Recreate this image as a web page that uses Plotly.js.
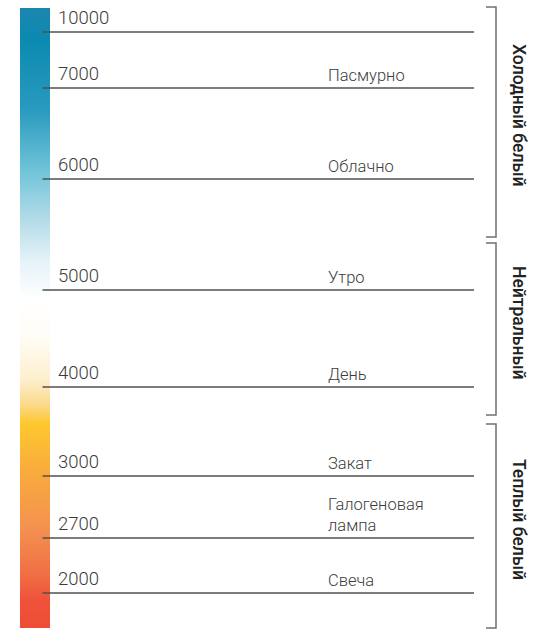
<!DOCTYPE html>
<html>
<head>
<meta charset="utf-8">
<script src="https://cdn.plot.ly/plotly-3.0.1.min.js"></script>
<style>html,body{margin:0;padding:0;background:#fff;}#chart{width:551px;height:630px;}</style>
</head>
<body>
<div id="chart"></div>
<script>
// Colour temperatures (K) and their descriptions
const temperatures = ['10000', '7000', '6000', '5000', '4000', '3000', '2700', '2000'];
const descriptions = ['', 'Пасмурно', 'Облачно', 'Утро', 'День', 'Закат', 'Галогеновая<br>лампа', 'Свеча'];
// vertical level of each row on the scale axis (0 = top, 630 = bottom)
const rowLevels = [32, 88, 179, 290, 387, 476, 538, 593];

// Groups (bracketed on the right)
const groupNames = ['Холодный белый', 'Нейтральный', 'Теплый белый'];
const groupStart = [7, 243, 424];
const groupEnd = [237, 415, 628];

// Scale bar extent on the same axis
const barTop = 8, barBottom = 628;

const gradient = [
  [0.000, '#1b86ae'],
  [0.052, '#0c8ab1'],
  [0.165, '#2a9abf'],
  [0.260, '#6ec3d8'],
  [0.340, '#b2dbe8'],
  [0.410, '#e6f3f8'],
  [0.470, '#ffffff'],
  [0.535, '#fffcf5'],
  [0.600, '#fdefcc'],
  [0.640, '#fbd98a'],
  [0.670, '#fec82f'],
  [0.745, '#f9ac3c'],
  [0.840, '#f49150'],
  [0.915, '#f06e44'],
  [0.955, '#ef523a'],
  [1.000, '#ee4c36']
];

const traces = [];
// gradient bar
traces.push({
  type: 'scatter', mode: 'none', hoverinfo: 'skip',
  x: [20, 50, 50, 20, 20],
  y: [barTop, barTop, barBottom, barBottom, barTop],
  fill: 'toself',
  fillgradient: {type: 'vertical', colorscale: gradient, start: barTop, stop: barBottom}
});
// row lines
rowLevels.forEach(function (lv) {
  traces.push({
    type: 'scatter', mode: 'lines', hoverinfo: 'skip',
    x: [42.5, 474], y: [lv, lv],
    line: {color: '#505050', width: 1.5}
  });
});
// group brackets
groupNames.forEach(function (g, i) {
  traces.push({
    type: 'scatter', mode: 'lines', hoverinfo: 'skip',
    x: [486, 496, 496, 486],
    y: [groupStart[i], groupStart[i], groupEnd[i], groupEnd[i]],
    line: {color: '#707070', width: 1.5}
  });
});

const annotations = [];
const numFont = {family: 'Roboto', size: 18.5, color: '#3c3c3c', weight: 300};
temperatures.forEach(function (t, i) {
  annotations.push({
    x: 57, y: rowLevels[i], xref: 'x', yref: 'y', text: t,
    xanchor: 'left', yanchor: 'bottom', showarrow: false, borderpad: 0,
    yshift: 2, font: numFont
  });
  if (descriptions[i]) {
    annotations.push({
      x: 327, y: rowLevels[i], xref: 'x', yref: 'y', text: descriptions[i],
      xanchor: 'left', yanchor: 'bottom', align: 'left', showarrow: false, borderpad: 0,
      yshift: 2, font: {family: 'Roboto', size: 16.5, color: '#3c3c3c', weight: 300}
    });
  }
});
groupNames.forEach(function (g, i) {
  annotations.push({
    x: 519, y: (groupStart[i] + groupEnd[i]) / 2, xref: 'x', yref: 'y', text: g,
    textangle: 90, showarrow: false, yshift: 7,
    font: {family: 'Roboto', size: 17.5, color: '#222222', weight: 500}
  });
});

const layout = {
  width: 551, height: 630,
  margin: {l: 0, r: 0, t: 0, b: 0},
  paper_bgcolor: '#ffffff', plot_bgcolor: '#ffffff',
  showlegend: false,
  xaxis: {range: [0, 551], visible: false, fixedrange: true},
  yaxis: {range: [630, 0], visible: false, fixedrange: true},
  annotations: annotations
};

Plotly.newPlot('chart', traces, layout, {displayModeBar: false, staticPlot: true});
</script>
</body>
</html>
